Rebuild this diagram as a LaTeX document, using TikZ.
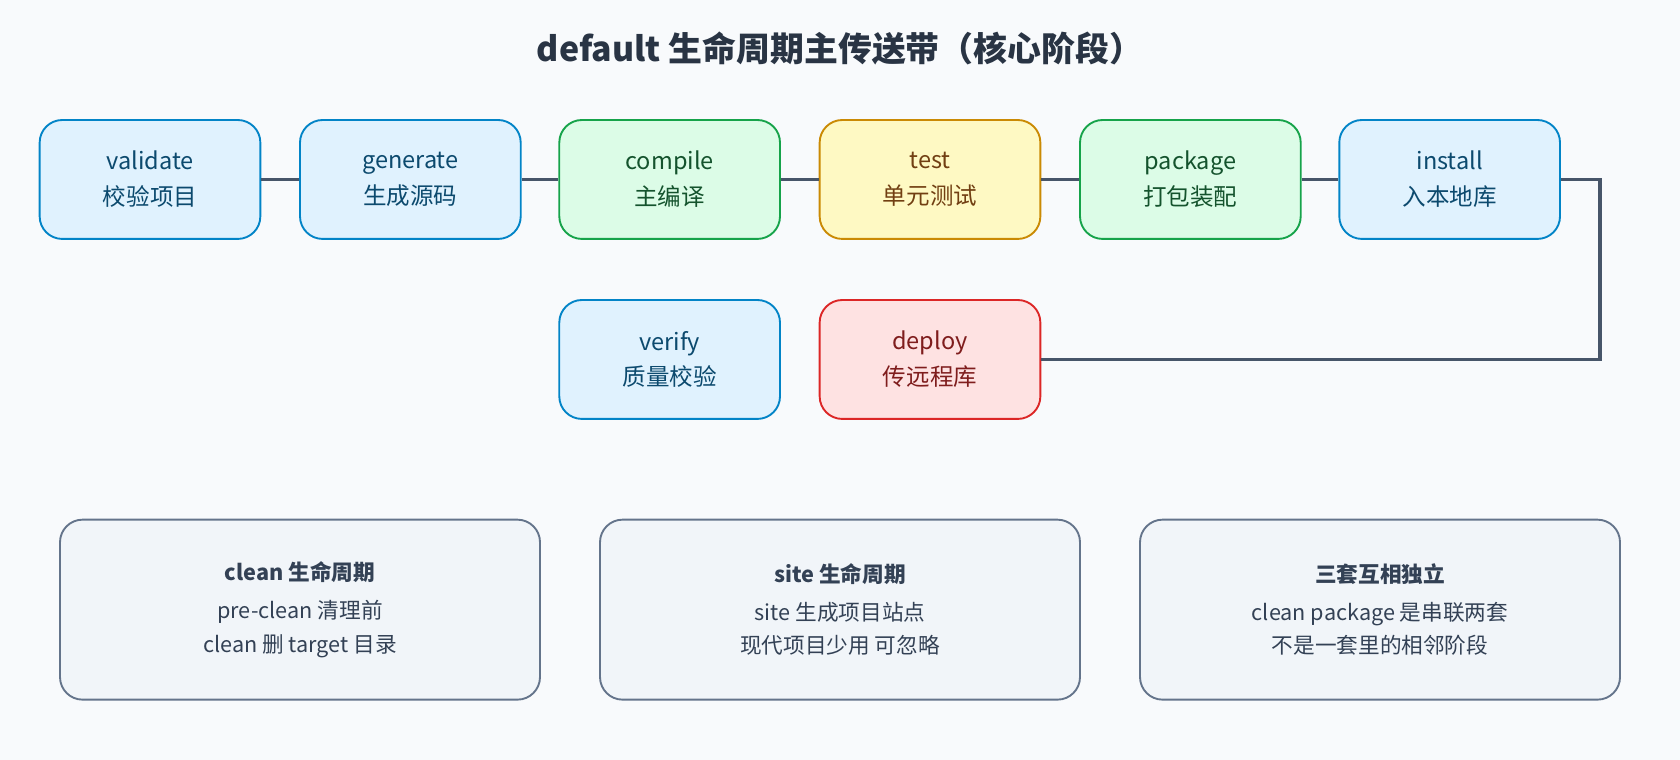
\documentclass[tikz,border=0pt]{standalone}
\usepackage{fontspec}
\setmainfont{Noto Sans CJK SC}
\usetikzlibrary{positioning}
\definecolor{bg}{HTML}{F8FAFC}
\definecolor{wire}{HTML}{475569}
\definecolor{bfill}{HTML}{E0F2FE}\definecolor{bdraw}{HTML}{0284C7}\definecolor{btext}{HTML}{0C4A6E}
\definecolor{gfill}{HTML}{DCFCE7}\definecolor{gdraw}{HTML}{16A34A}\definecolor{gtext}{HTML}{14532D}
\definecolor{yfill}{HTML}{FEF9C3}\definecolor{ydraw}{HTML}{CA8A04}\definecolor{ytext}{HTML}{713F12}
\definecolor{rfill}{HTML}{FEE2E2}\definecolor{rdraw}{HTML}{DC2626}\definecolor{rtext}{HTML}{7F1D1D}
\definecolor{nfill}{HTML}{F1F5F9}\definecolor{ndraw}{HTML}{64748B}\definecolor{ntext}{HTML}{334155}
\tikzset{
  phase/.style={rounded corners=12pt, line width=1pt, minimum width=4.12cm, minimum height=2.22cm,
    align=center, font=\fontsize{12.5}{19}\selectfont},
  blue/.style={phase, fill=bfill, draw=bdraw, text=btext},
  green/.style={phase, fill=gfill, draw=gdraw, text=gtext},
  yellow/.style={phase, fill=yfill, draw=ydraw, text=ytext},
  red/.style={phase, fill=rfill, draw=rdraw, text=rtext},
  note/.style={rounded corners=12pt, line width=1pt, fill=nfill, draw=ndraw, text=ntext,
    minimum width=8.96cm, minimum height=3.36cm, align=center, font=\fontsize{11.5}{18}\selectfont},
  link/.style={draw=wire, line width=2pt}
}
\begin{document}
\begin{tikzpicture}
  \fill[bg] (0,0) rectangle (31.36,-14.18);
  \useasboundingbox (0,0) rectangle (31.36,-14.18);
  \node[font=\fontsize{18}{22}\selectfont\bfseries, text=ntext!80!black] (title) at (15.68,-0.9) {default 生命周期主传送带（核心阶段）};

  \node[blue] (validate) at (2.8,-3.35) {validate\\校验项目};
  \node[blue] (generate) at (7.66,-3.35) {generate\\生成源码};
  \node[green] (compile) at (12.5,-3.35) {compile\\主编译};
  \node[yellow] (test) at (17.36,-3.35) {test\\单元测试};
  \node[green] (package) at (22.22,-3.35) {package\\打包装配};
  \node[blue] (install) at (27.06,-3.35) {install\\入本地库};
  \node[blue] (verify) at (12.5,-6.71) {verify\\质量校验};
  \node[red] (deploy) at (17.36,-6.71) {deploy\\传远程库};

  \draw[link] (validate) -- (generate);
  \draw[link] (generate) -- (compile);
  \draw[link] (compile) -- (test);
  \draw[link] (test) -- (package);
  \draw[link] (package) -- (install);
  \coordinate (turn) at (29.86,-3.35);
  \draw[link] (install.east) -- (turn) |- (deploy.east);

  \node[note] (clean) at (5.6,-11.38) {\textbf{clean 生命周期}\\[2pt]pre-clean 清理前\\clean 删 target 目录};
  \node[note] (site) at (15.68,-11.38) {\textbf{site 生命周期}\\[2pt]site 生成项目站点\\现代项目少用 可忽略};
  \node[note] (apart) at (25.76,-11.38) {\textbf{三套互相独立}\\[2pt]clean package 是串联两套\\不是一套里的相邻阶段};
\end{tikzpicture}
\end{document}
